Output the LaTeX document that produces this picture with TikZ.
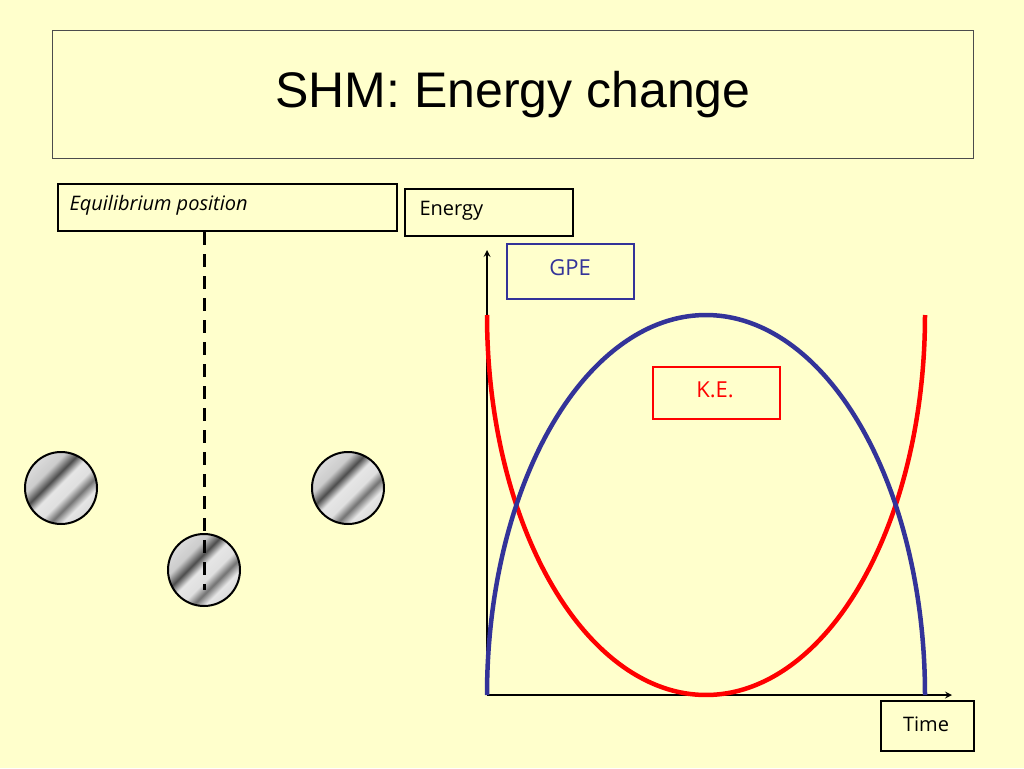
\documentclass[tikz,border=0pt]{standalone}
\usepackage{fontspec}
\setmainfont{Liberation Sans}
\newfontfamily\labfont{Open Sans}
\definecolor{bgc}{RGB}{255,255,204}
\definecolor{bluec}{RGB}{51,51,153}
\begin{document}
\pgfdeclarehorizontalshading{ballshade}{100bp}{color(0bp)=(white); color(35bp)=(white!60!gray); color(42bp)=(black!70); color(48bp)=(white!80!gray); color(56bp)=(white!75!gray); color(62bp)=(black!55); color(68bp)=(white!80!gray); color(76bp)=(white!70!gray); color(82bp)=(black!60); color(88bp)=(white!85!gray); color(100bp)=(white)}
\begin{tikzpicture}[x=1pt,y=-1pt,
  box/.style={draw,line width=2pt,inner sep=0pt,anchor=north west},
  ball/.style={circle,draw,line width=2pt,minimum size=72pt,inner sep=0pt,shading=ballshade,shading angle=-45},
  curve/.style={line width=4.5pt}]
\fill[bgc] (0,0) rectangle (1024,768);
\useasboundingbox (0,0) rectangle (1024,768);
\node[draw=black!70,line width=0.8pt,minimum width=921pt,minimum height=128pt,anchor=north west,inner sep=0pt] (title) at (52,30) {};
\node[font=\fontsize{50}{60}\selectfont] at (title.center) {SHM: Energy change};
\node[box,minimum width=339pt,minimum height=47pt] (eq) at (57,183) {};
\node[font=\labfont\itshape\fontsize{20}{24}\selectfont,anchor=west] at (66,205) {Equilibrium position};
\node[box,minimum width=168pt,minimum height=47pt] (en) at (404,188) {};
\node[font=\labfont\fontsize{20}{24}\selectfont,anchor=west] at (416,211) {Energy};
\node[box,draw=bluec,minimum width=127pt,minimum height=55pt] (gpe) at (506,243) {};
\node[font=\labfont\fontsize{22}{26}\selectfont,text=bluec] at (570,268) {GPE};
\node[box,draw=red,minimum width=127pt,minimum height=52pt] (ke) at (652,366) {};
\node[font=\labfont\fontsize{22}{26}\selectfont,text=red] at (715,390) {K.E.};
\node[box,minimum width=93pt,minimum height=50pt] (tm) at (880,700) {};
\node[font=\labfont\fontsize{20}{24}\selectfont] at (926,724) {Time};
\coordinate (o) at (487,695);
\coordinate (yt) at (487,250);
\coordinate (xt) at (952,695);
\draw[line width=2pt,-stealth] (o) -- (yt);
\draw[line width=2pt,-stealth] (o) -- (xt);
\draw[curve,red] plot[domain=0:180,samples=120,smooth] ({706+219*cos(\x)},{315+380*sin(\x)});
\draw[curve,bluec] plot[domain=0:180,samples=120,smooth] ({706+219*cos(\x)},{695-380*sin(\x)});
\node[ball] (b1) at (61,488) {};
\node[ball] (b2) at (348,488) {};
\node[ball] (b3) at (204,570) {};
\coordinate (d1) at (204,232);
\coordinate (d2) at (204,590);
\draw[line width=3pt,dash pattern=on 13pt off 9pt] (d1) -- (d2);
\end{tikzpicture}
\end{document}
